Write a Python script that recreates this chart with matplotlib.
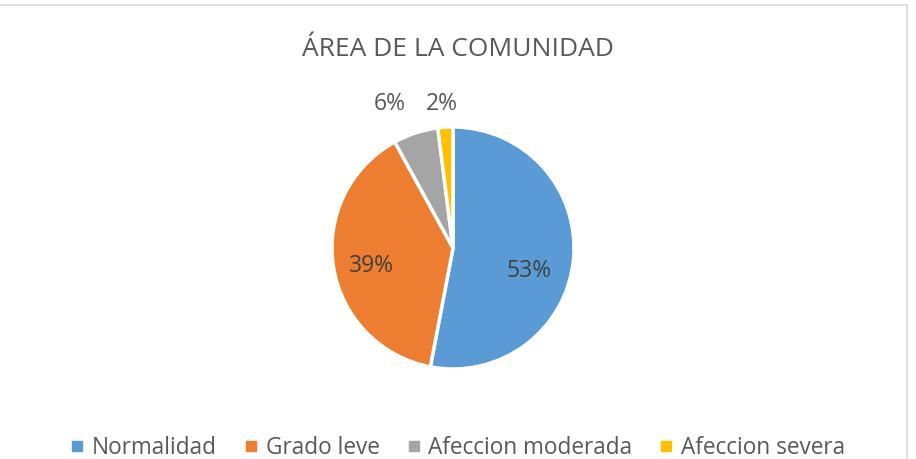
import matplotlib
matplotlib.use("Agg")
import matplotlib.pyplot as plt
from matplotlib.lines import Line2D

categories = ["Normalidad", "Grado leve", "Afeccion moderada", "Afeccion severa"]
values = [53, 39, 6, 2]
colors = ["#5B9BD5", "#ED7D31", "#A5A5A5", "#FFC000"]
title = "ÁREA DE LA COMUNIDAD"

plt.rcParams['font.family'] = ['Open Sans', 'DejaVu Sans']
W, H = 916, 459
fig = plt.figure(figsize=(W/100, H/100), dpi=100)

# pie axes
cx, cy, r = 453, 248, 121
ax = fig.add_axes([(cx - r)/W, (H - cy - r)/H, 2*r/W, 2*r/H])
wedges, _ = ax.pie(values, colors=colors, startangle=90, counterclock=False,
                   wedgeprops=dict(edgecolor="white", linewidth=2.5))
ax.set_xlim(-1, 1); ax.set_ylim(-1, 1)
ax.set_aspect('equal')
ax.axis('off')

label_pos = [(0.63, -0.19), (-0.67, -0.15), (-0.52, 1.19), (-0.09, 1.19)]
label_colors = ["#404040", "#404040", "#595959", "#595959"]
for v, (x, y), c in zip(values, label_pos, label_colors):
    ax.text(x, y, f"{v}%", ha="center", va="center", fontsize=16.5, color=c)

fig.text(0.5, 1 - 50/H, title, ha="center", va="center", fontsize=19, color="#595959")

handles = [Line2D([], [], marker="s", linestyle="", markersize=6.5, color=c) for c in colors]
fig.legend(handles, categories, loc="center", bbox_to_anchor=(0.5, 1 - 448/H), ncol=4,
           frameon=False, fontsize=16.3, handletextpad=0.35, columnspacing=1.2,
           labelcolor="#595959", handlelength=0.6, borderpad=0)

# border lines (top and right)
fig.add_artist(Line2D([0, 907/W], [1 - 5/H, 1 - 5/H], color="#D9D9D9", linewidth=1.2))
fig.add_artist(Line2D([907/W, 907/W], [0, 1 - 5/H], color="#D9D9D9", linewidth=1.2))

fig.savefig("out.png", dpi=100)
